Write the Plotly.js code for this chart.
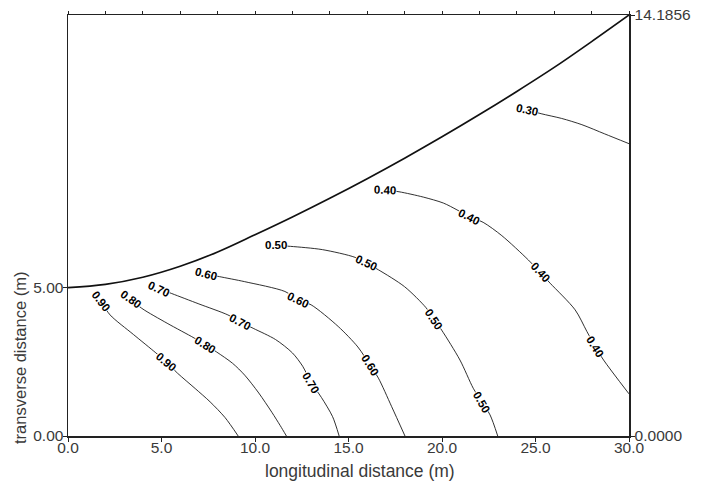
<!DOCTYPE html>
<html>
<head>
<meta charset="utf-8">
<script src="https://cdn.plot.ly/plotly-3.0.1.min.js"></script>
<style>html,body{margin:0;padding:0;background:#fff;}#chart{width:706px;height:486px;}</style>
</head>
<body>
<div id="chart"></div>
<script>
// Domain boundary (upper edge of the region)
var boundaryX = [0, 2, 4, 6, 8, 10, 12, 14, 16, 18, 20, 22, 24, 26, 28, 30];
var boundaryY = [5.00, 5.11, 5.35, 5.72, 6.20, 6.78, 7.38, 8.01, 8.67, 9.36, 10.08, 10.83, 11.61, 12.42, 13.29, 14.1856];

// Contour lines
var c90x = [1.75, 2.25, 3.5, 4.7, 5.25, 5.85, 6.8, 7.6, 8.4, 9.1];
var c90y = [4.55, 4.08, 3.42, 2.8, 2.5, 2.12, 1.6, 1.15, 0.62, 0];
var c80x = [3.35, 3.95, 5.3, 6.75, 7.35, 7.95, 8.8, 9.45, 10.2, 10.9, 11.35, 11.68];
var c80y = [4.62, 4.3, 3.8, 3.3, 3.07, 2.83, 2.45, 2.05, 1.45, 0.8, 0.35, 0];
var c70x = [4.85, 5.55, 7.0, 8.55, 9.2, 9.9, 11.1, 12.0, 12.55, 13.0, 13.55, 14.15, 14.5];
var c70y = [4.97, 4.8, 4.45, 4.08, 3.85, 3.63, 3.25, 2.8, 2.35, 1.8, 1.3, 0.65, 0];
var c60x = [7.4, 8.1, 9.45, 11.6, 12.3, 13.0, 14.45, 15.5, 16.15, 16.6, 17.3, 18.02];
var c60y = [5.46, 5.37, 5.2, 4.87, 4.59, 4.42, 3.69, 3.0, 2.39, 1.95, 1.0, 0];
var c50x = [11.14, 11.9, 13.6, 15.35, 15.96, 16.6, 18.0, 19.15, 19.55, 19.98, 20.96, 21.67, 22.12, 22.57, 22.98];
var c50y = [6.42, 6.39, 6.28, 6.02, 5.82, 5.6, 5.03, 4.32, 3.95, 3.57, 2.56, 1.61, 1.16, 0.71, 0];
var c40x = [16.94, 17.7, 19.0, 20.07, 20.8, 21.46, 22.2, 23.2, 24.62, 25.25, 25.78, 27.12, 27.75, 28.2, 28.64, 30];
var c40y = [8.29, 8.23, 8.05, 7.85, 7.62, 7.39, 7.2, 6.75, 5.93, 5.51, 5.15, 4.25, 3.52, 3.01, 2.56, 1.42];
var c30x = [24.57, 25.3, 26.4, 27.48, 28.7, 30];
var c30y = [10.99, 10.86, 10.7, 10.49, 10.18, 9.85];

// Contour labels
var labelText  = ["0.90", "0.90", "0.80", "0.80", "0.70", "0.70", "0.70", "0.60", "0.60", "0.60",
                  "0.50", "0.50", "0.50", "0.50", "0.40", "0.40", "0.40", "0.40", "0.30"];
var labelX     = [1.75, 5.25, 3.35, 7.35, 4.85, 9.2, 13.0, 7.4, 12.3, 16.15,
                  11.14, 15.96, 19.55, 22.12, 16.94, 21.46, 25.25, 28.2, 24.57];
var labelY     = [4.55, 2.5, 4.62, 3.07, 4.97, 3.85, 1.8, 5.46, 4.59, 2.39,
                  6.42, 5.82, 3.95, 1.16, 8.29, 7.39, 5.51, 3.01, 10.99];
var labelAngle = [52, 40, 36, 32, 25, 28, 60, 15, 26, 58,
                  0, 25, 56, 60, 2, 27, 47, 58, 12];

// Axis ticks
var xTickVals = [0, 5, 10, 15, 20, 25, 30];
var xTickText = ["0.0", "5.0", "10.0", "15.0", "20.0", "25.0", "30.0"];
var topTickVals = [0, 2, 4, 6, 8, 10, 12, 14, 16, 18, 20, 22, 24, 26, 28, 30];
var yTickVals = [0, 5];
var yTickText = ["0.00", "5.00"];
var y2TickVals = [0, 14.1856];
var y2TickText = ["0.0000", "14.1856"];

var FONT = "Liberation Sans, Arial, sans-serif";
var TXT = "#3a3a3a";

function contour(xs, ys) {
  return {x: xs, y: ys, type: "scatter", mode: "lines",
          line: {color: "#1a1a1a", width: 0.9, shape: "spline", smoothing: 0.8},
          hoverinfo: "skip", showlegend: false};
}

var traces = [
  contour(c90x, c90y), contour(c80x, c80y), contour(c70x, c70y), contour(c60x, c60y),
  contour(c50x, c50y), contour(c40x, c40y), contour(c30x, c30y),
  {x: boundaryX, y: boundaryY, type: "scatter", mode: "lines", xaxis: "x2", yaxis: "y2",
   line: {color: "#111", width: 1.7, shape: "spline", smoothing: 1},
   hoverinfo: "skip", showlegend: false}
];

var annotations = [];
for (var i = 0; i < labelText.length; i++) {
  annotations.push({x: labelX[i], y: labelY[i], xref: "x", yref: "y", text: labelText[i],
    showarrow: false, textangle: labelAngle[i], bgcolor: "#ffffff", borderpad: 0,
    font: {family: FONT, size: 11.5, color: "#000", weight: "bold"}});
}
annotations.push({x: 0.5205, y: -0.083, xref: "paper", yref: "paper", text: "longitudinal distance (m)",
  showarrow: false, xanchor: "center", yanchor: "middle", font: {family: FONT, size: 17.5, color: TXT}});
annotations.push({x: -0.0856, y: 0.1853, xref: "paper", yref: "paper", text: "transverse distance (m)",
  showarrow: false, textangle: -90, xanchor: "center", yanchor: "middle", font: {family: FONT, size: 16.5, color: TXT}});

var axisCommon = {showgrid: false, zeroline: false, showline: true, linecolor: "#222", linewidth: 1.5,
  ticks: "outside", ticklen: 4, tickwidth: 1, tickcolor: "#222",
  tickfont: {family: FONT, size: 15.5, color: TXT}, fixedrange: true};

var layout = {
  width: 706, height: 486,
  margin: {l: 68, r: 77, t: 15, b: 50},
  paper_bgcolor: "#fff", plot_bgcolor: "#fff",
  showlegend: false,
  xaxis: Object.assign({}, axisCommon, {range: [0, 30], tickmode: "array", tickvals: xTickVals, ticktext: xTickText,
    ticklabelstandoff: -7}),
  yaxis: Object.assign({}, axisCommon, {range: [0, 14.1856], tickmode: "array", tickvals: yTickVals, ticktext: yTickText,
    ticklabelstandoff: -4}),
  xaxis2: Object.assign({}, axisCommon, {range: [0, 30], overlaying: "x", side: "top", tickmode: "array",
    tickvals: topTickVals, showticklabels: false, ticklen: 3}),
  yaxis2: Object.assign({}, axisCommon, {range: [0, 14.1856], overlaying: "y", side: "right", tickmode: "array",
    tickvals: y2TickVals, ticktext: y2TickText, ticklabelstandoff: -3}),
  annotations: annotations
};

Plotly.newPlot("chart", traces, layout, {displayModeBar: false, staticPlot: true});
</script>
</body>
</html>
